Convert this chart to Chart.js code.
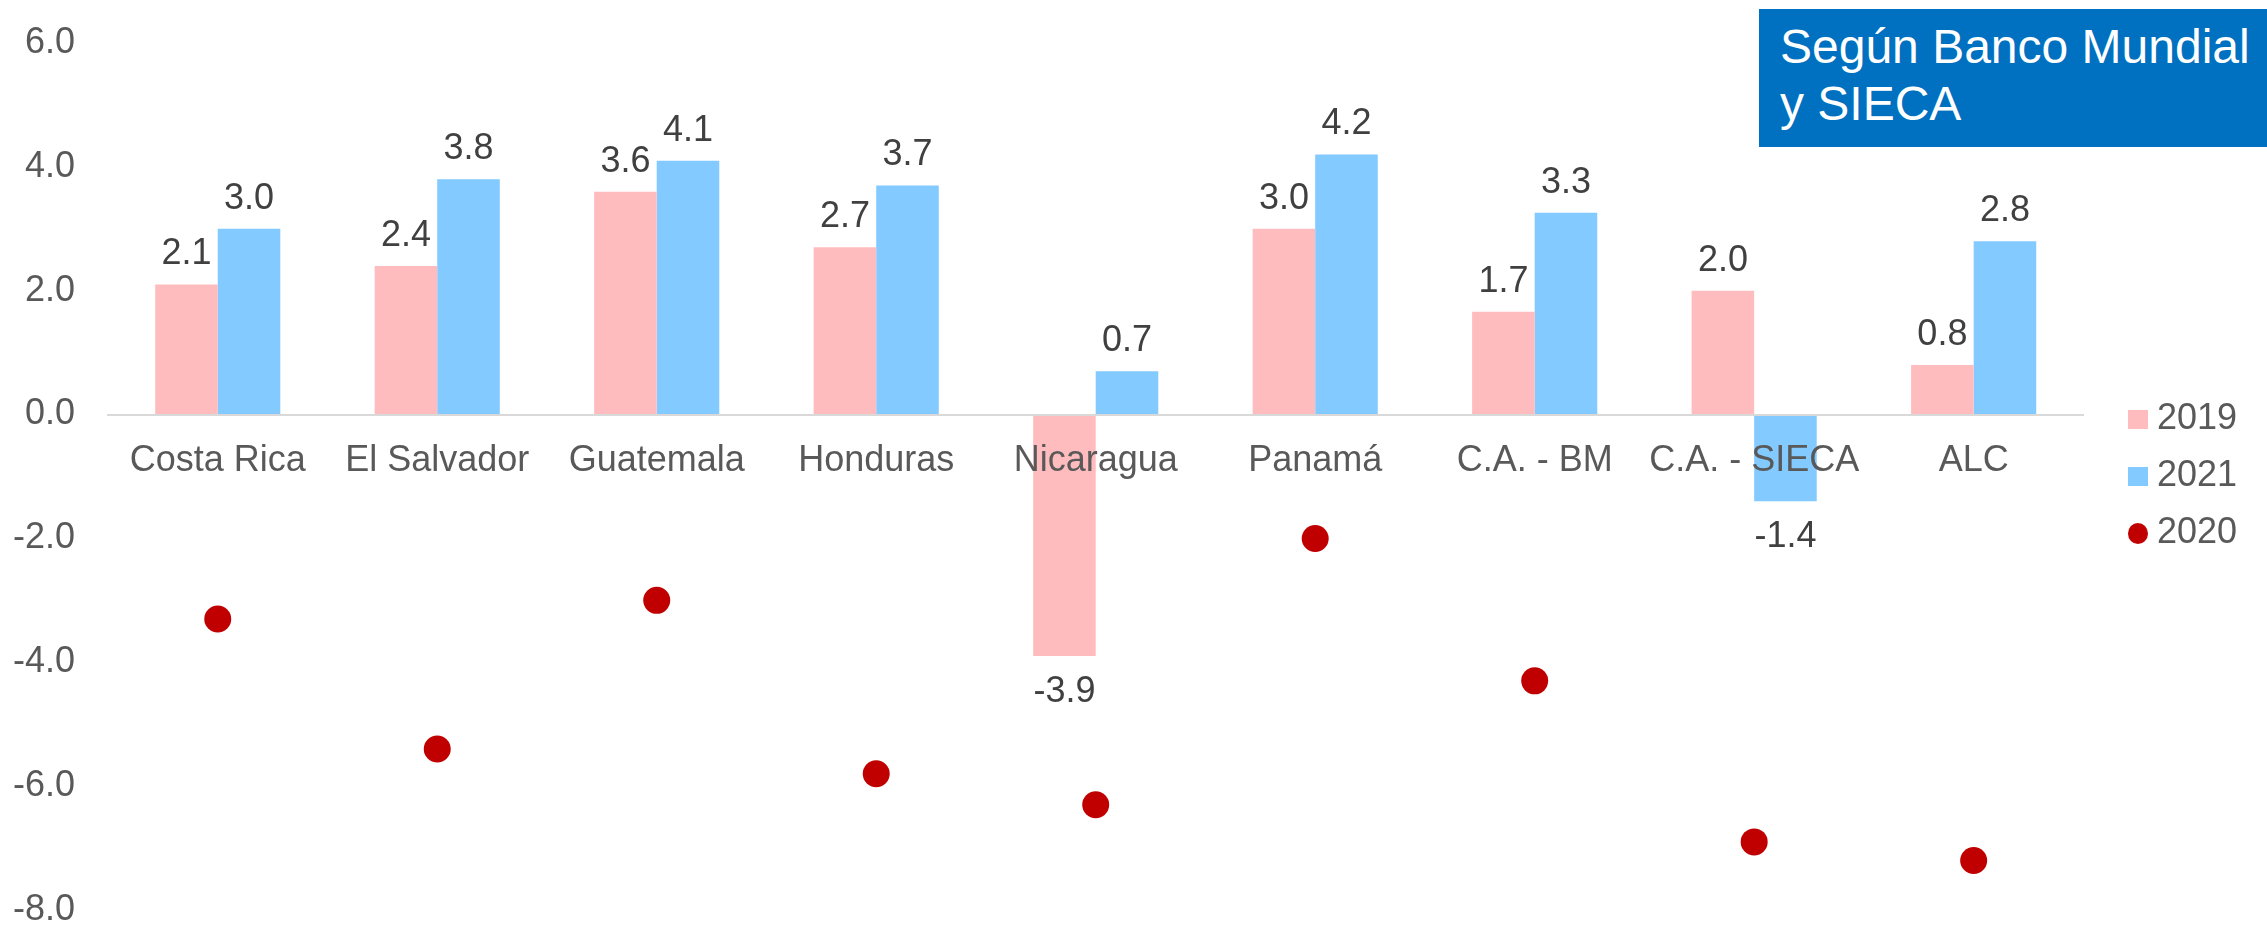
<!DOCTYPE html>
<html><head><meta charset="utf-8">
<script src="https://cdn.jsdelivr.net/npm/chart.js@4"></script>
<style>
html,body{margin:0;padding:0;background:#fff;overflow:hidden}
#wrap{position:relative;width:2267px;height:925px}
#note{position:absolute;left:1759px;top:9px;width:508px;height:138px;background:#0070C0;color:#fff;font-family:"Liberation Sans",Arial,sans-serif;font-size:48px;line-height:56.5px;padding:10px 0 0 21px;box-sizing:border-box;white-space:nowrap}
</style></head><body>
<div id="wrap"><canvas id="c" width="2267" height="925"></canvas><div id="note">Según Banco Mundial<br>y SIECA</div></div>
<script>
const categories = ["Costa Rica","El Salvador","Guatemala","Honduras","Nicaragua","Panamá","C.A. - BM","C.A. - SIECA","ALC"];
const values2019 = [2.1, 2.4, 3.6, 2.7, -3.9, 3.0, 1.66, 2.0, 0.8];
const values2021 = [3.0, 3.8, 4.1, 3.7, 0.7, 4.2, 3.26, -1.4, 2.8];
const values2020 = [-3.3, -5.4, -3.0, -5.8, -6.3, -2.0, -4.3, -6.9, -7.2];
const yTicks = [-8, -6, -4, -2, 0, 2, 4, 6];
const seriesNames = ["2019", "2021", "2020"];
const seriesColors = ["#FFBCBE", "#82CAFF", "#C00000"];

const FAMILY = '"Liberation Sans", Arial, sans-serif';
Chart.defaults.font.family = FAMILY;

function makeMarker(color, round) {
  const c = document.createElement('canvas');
  c.width = 20; c.height = round ? 21 : 19;
  const g = c.getContext('2d');
  g.fillStyle = color;
  if (round) { g.beginPath(); g.ellipse(10, 10.5, 10, 10.5, 0, 0, Math.PI * 2); g.fill(); }
  else g.fillRect(0, 0, 20, 19);
  return c;
}
const legendMarkers = [makeMarker(seriesColors[0], false), makeMarker(seriesColors[1], false), makeMarker(seriesColors[2], true)];

const barLabels = {
  id: 'barLabels',
  afterDatasetsDraw(chart) {
    const ctx = chart.ctx;
    ctx.save();
    ctx.font = '36px ' + FAMILY;
    ctx.fillStyle = '#404040';
    ctx.textAlign = 'center';
    ctx.textBaseline = 'middle';
    [0, 1].forEach(di => {
      const meta = chart.getDatasetMeta(di);
      meta.data.forEach((el, i) => {
        const v = chart.data.datasets[di].data[i];
        const y = v >= 0 ? el.y - 30 : el.y + 36;
        ctx.fillText(v.toFixed(1), el.x, y);
      });
    });
    ctx.restore();
  }
};

const legendShift = {
  id: 'legendShift',
  afterLayout(chart) {
    if (chart.legend) { chart.legend.left += 32.5; chart.legend.right += 32.5; }
  }
};

new Chart(document.getElementById('c'), {
  type: 'bar',
  data: {
    labels: categories,
    datasets: [
      { label: seriesNames[0], data: values2019, backgroundColor: seriesColors[0], borderWidth: 0 },
      { label: seriesNames[1], data: values2021, backgroundColor: seriesColors[1], borderWidth: 0 },
      { type: 'line', label: seriesNames[2], data: values2020, showLine: false, pointStyle: 'circle',
        pointRadius: 13.5, pointHoverRadius: 13.5, pointBackgroundColor: seriesColors[2], pointBorderWidth: 0,
        backgroundColor: seriesColors[2], borderColor: seriesColors[2] }
    ]
  },
  options: {
    responsive: false,
    animation: false,
    devicePixelRatio: 1,
    categoryPercentage: 0.57,
    barPercentage: 1.0,
    layout: { padding: { top: 43, bottom: 15, left: 0, right: 52.5 } },
    scales: {
      x: {
        position: { y: 0 },
        offset: true,
        grid: { display: false, drawTicks: false },
        border: { display: true, color: '#D9D9D9', width: 2, z: 1 },
        ticks: { z: 2, color: '#595959', font: { size: 36 }, padding: 25, maxRotation: 0, minRotation: 0, autoSkip: false },
        afterFit(s) { s.paddingLeft = 0; s.paddingRight = 0; }
      },
      y: {
        min: -8, max: 6,
        grid: { display: false, drawTicks: false },
        border: { display: false },
        ticks: { color: '#595959', font: { size: 36 }, padding: 33, callback: v => Number(v).toFixed(1) },
        afterBuildTicks(s) { s.ticks = yTicks.map(v => ({ value: v })); },
        afterFit(s) { s.width = 108; s.paddingTop = 0; s.paddingBottom = 0; }
      }
    },
    plugins: {
      tooltip: { enabled: false },
      title: { display: false },
      legend: {
        position: 'right',
        labels: {
          font: { size: 36 }, color: '#595959', usePointStyle: true, pointStyleWidth: 2,
          boxWidth: 20, boxHeight: 20, padding: 21,
          generateLabels(chart) {
            const items = Chart.defaults.plugins.legend.labels.generateLabels(chart);
            items.forEach(it => { it.pointStyle = legendMarkers[it.datasetIndex]; });
            return items;
          }
        }
      }
    }
  },
  plugins: [barLabels, legendShift]
});
</script>
</body></html>
